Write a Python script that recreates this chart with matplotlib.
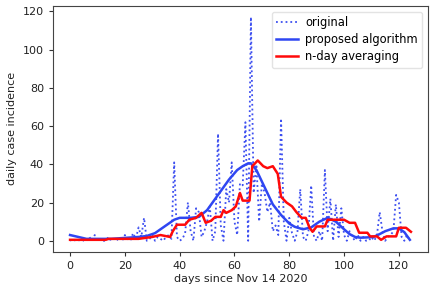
import matplotlib
matplotlib.use('Agg')
import matplotlib.pyplot as plt

# daily case counts, days 0..124
days = list(range(125))
original = [
    0, 1, 0, 0, 1, 0, 0, 2, 0, 3,      # 0-9
    0, 1, 0, 0, 2, 0, 1, 0, 2, 0,      # 10-19
    3, 1, 0, 4, 1, 7, 2, 12, 0, 1,     # 20-29
    3, 0, 2, 1, 0, 2, 3, 1, 41, 2,     # 30-39
    0, 1, 4, 20, 5, 0, 17, 15, 2, 5,   # 40-49
    10, 18, 0, 5, 56, 8, 0, 27, 20, 41,  # 50-59
    10, 3, 30, 29, 62, 0, 117, 25, 40, 10,  # 60-69
    30, 25, 15, 20, 5, 8, 3, 64, 10, 0,  # 70-79
    12, 4, 0, 5, 27, 2, 0, 5, 29, 2,   # 80-89
    0, 5, 0, 37, 5, 22, 0, 19, 2, 17,  # 90-99
    3, 0, 5, 2, 0, 3, 0, 2, 0, 0,      # 100-109
    2, 0, 3, 15, 5, 0, 2, 3, 5, 24,    # 110-119
    20, 2, 0, 3, 0,                    # 120-124
]

# proposed algorithm (smoothed curve)
prop_days = [0, 3, 6, 10, 15, 20, 25, 28, 31, 33, 36, 38, 40, 44, 47,
             50, 52, 55, 58, 61, 63, 65, 66, 68, 70, 72, 74, 77, 80, 82,
             85, 88, 91, 94, 97, 100, 102, 104, 106, 109, 111, 113, 115,
             118, 120, 122, 124]
prop_vals = [3, 2, 1, 1, 1, 1.5, 2, 2.5, 4, 6, 9, 11, 12, 12, 12.5,
             16, 20, 26, 32, 37, 39, 40.5, 40.5, 37, 31, 25, 19, 13.5, 9, 7.3,
             6, 7, 10, 12, 10, 6, 3.5, 2, 1.6, 1.8, 2.2, 3.5, 5,
             6.5, 6.5, 4.5, 0.5]

# n-day averaging
avg_days = [0, 13, 14, 25, 30, 33, 36.5, 37.5, 39, 42, 43.5, 46, 48, 49.5,
            51.5, 53, 55, 56, 57, 59, 60.5, 62, 63, 65.5, 66.5, 68.5, 70.5,
            72, 74, 75.8, 77, 79, 81, 82.6, 84.5, 86, 87.4, 88.5, 90, 93,
            94, 96, 100, 102, 104, 105.5, 108.5, 109.5, 112, 113.5, 115.5,
            119, 120, 122.6, 124.4]
avg_vals = [0.5, 0.5, 1, 1, 2, 3, 2, 5, 8.4, 8.4, 11, 12, 14.6, 9.4,
            10.5, 12.5, 12.5, 16, 14.6, 16, 18, 25, 21, 21, 39, 42, 39,
            38, 39, 35, 23, 20, 18, 15, 12, 12, 6.8, 4.7, 7.5, 7.5,
            11, 11, 11, 9.4, 9.4, 4.2, 4.2, 2.3, 2.3, 0.5, 2.3,
            2.3, 6.8, 6.8, 4.7]

fig = plt.figure(figsize=(4.36, 2.94), dpi=100)
ax = fig.add_axes([0.1216, 0.143, 0.86, 0.837])

ax.plot(days, original, ':', color='#3d4ff0', lw=1.3, label='original')
ax.plot(prop_days, prop_vals, '-', color='#2f46f2', lw=1.8, label='proposed algorithm')
ax.plot(avg_days, avg_vals, '-', color='#ff0a0a', lw=1.8, label='n-day averaging')

ax.set_xticks([0, 20, 40, 60, 80, 100, 120])
ax.set_yticks([0, 20, 40, 60, 80, 100, 120])
ax.tick_params(labelsize=8, length=3, color='#333333', labelcolor='#222222')
ax.set_xlabel('days since Nov 14 2020', fontsize=8, color='#222222', labelpad=2)
ax.set_ylabel('daily case incidence', fontsize=8, color='#222222', labelpad=4)
for s in ax.spines.values():
    s.set_color('#444444')

ax.legend(loc='upper right', fontsize=8.3, framealpha=0.8, edgecolor='#dddddd',
          handlelength=1.9, handletextpad=0.6, borderaxespad=0.5, labelspacing=0.35)

plt.savefig('out.png', dpi=100)
plt.close(fig)
